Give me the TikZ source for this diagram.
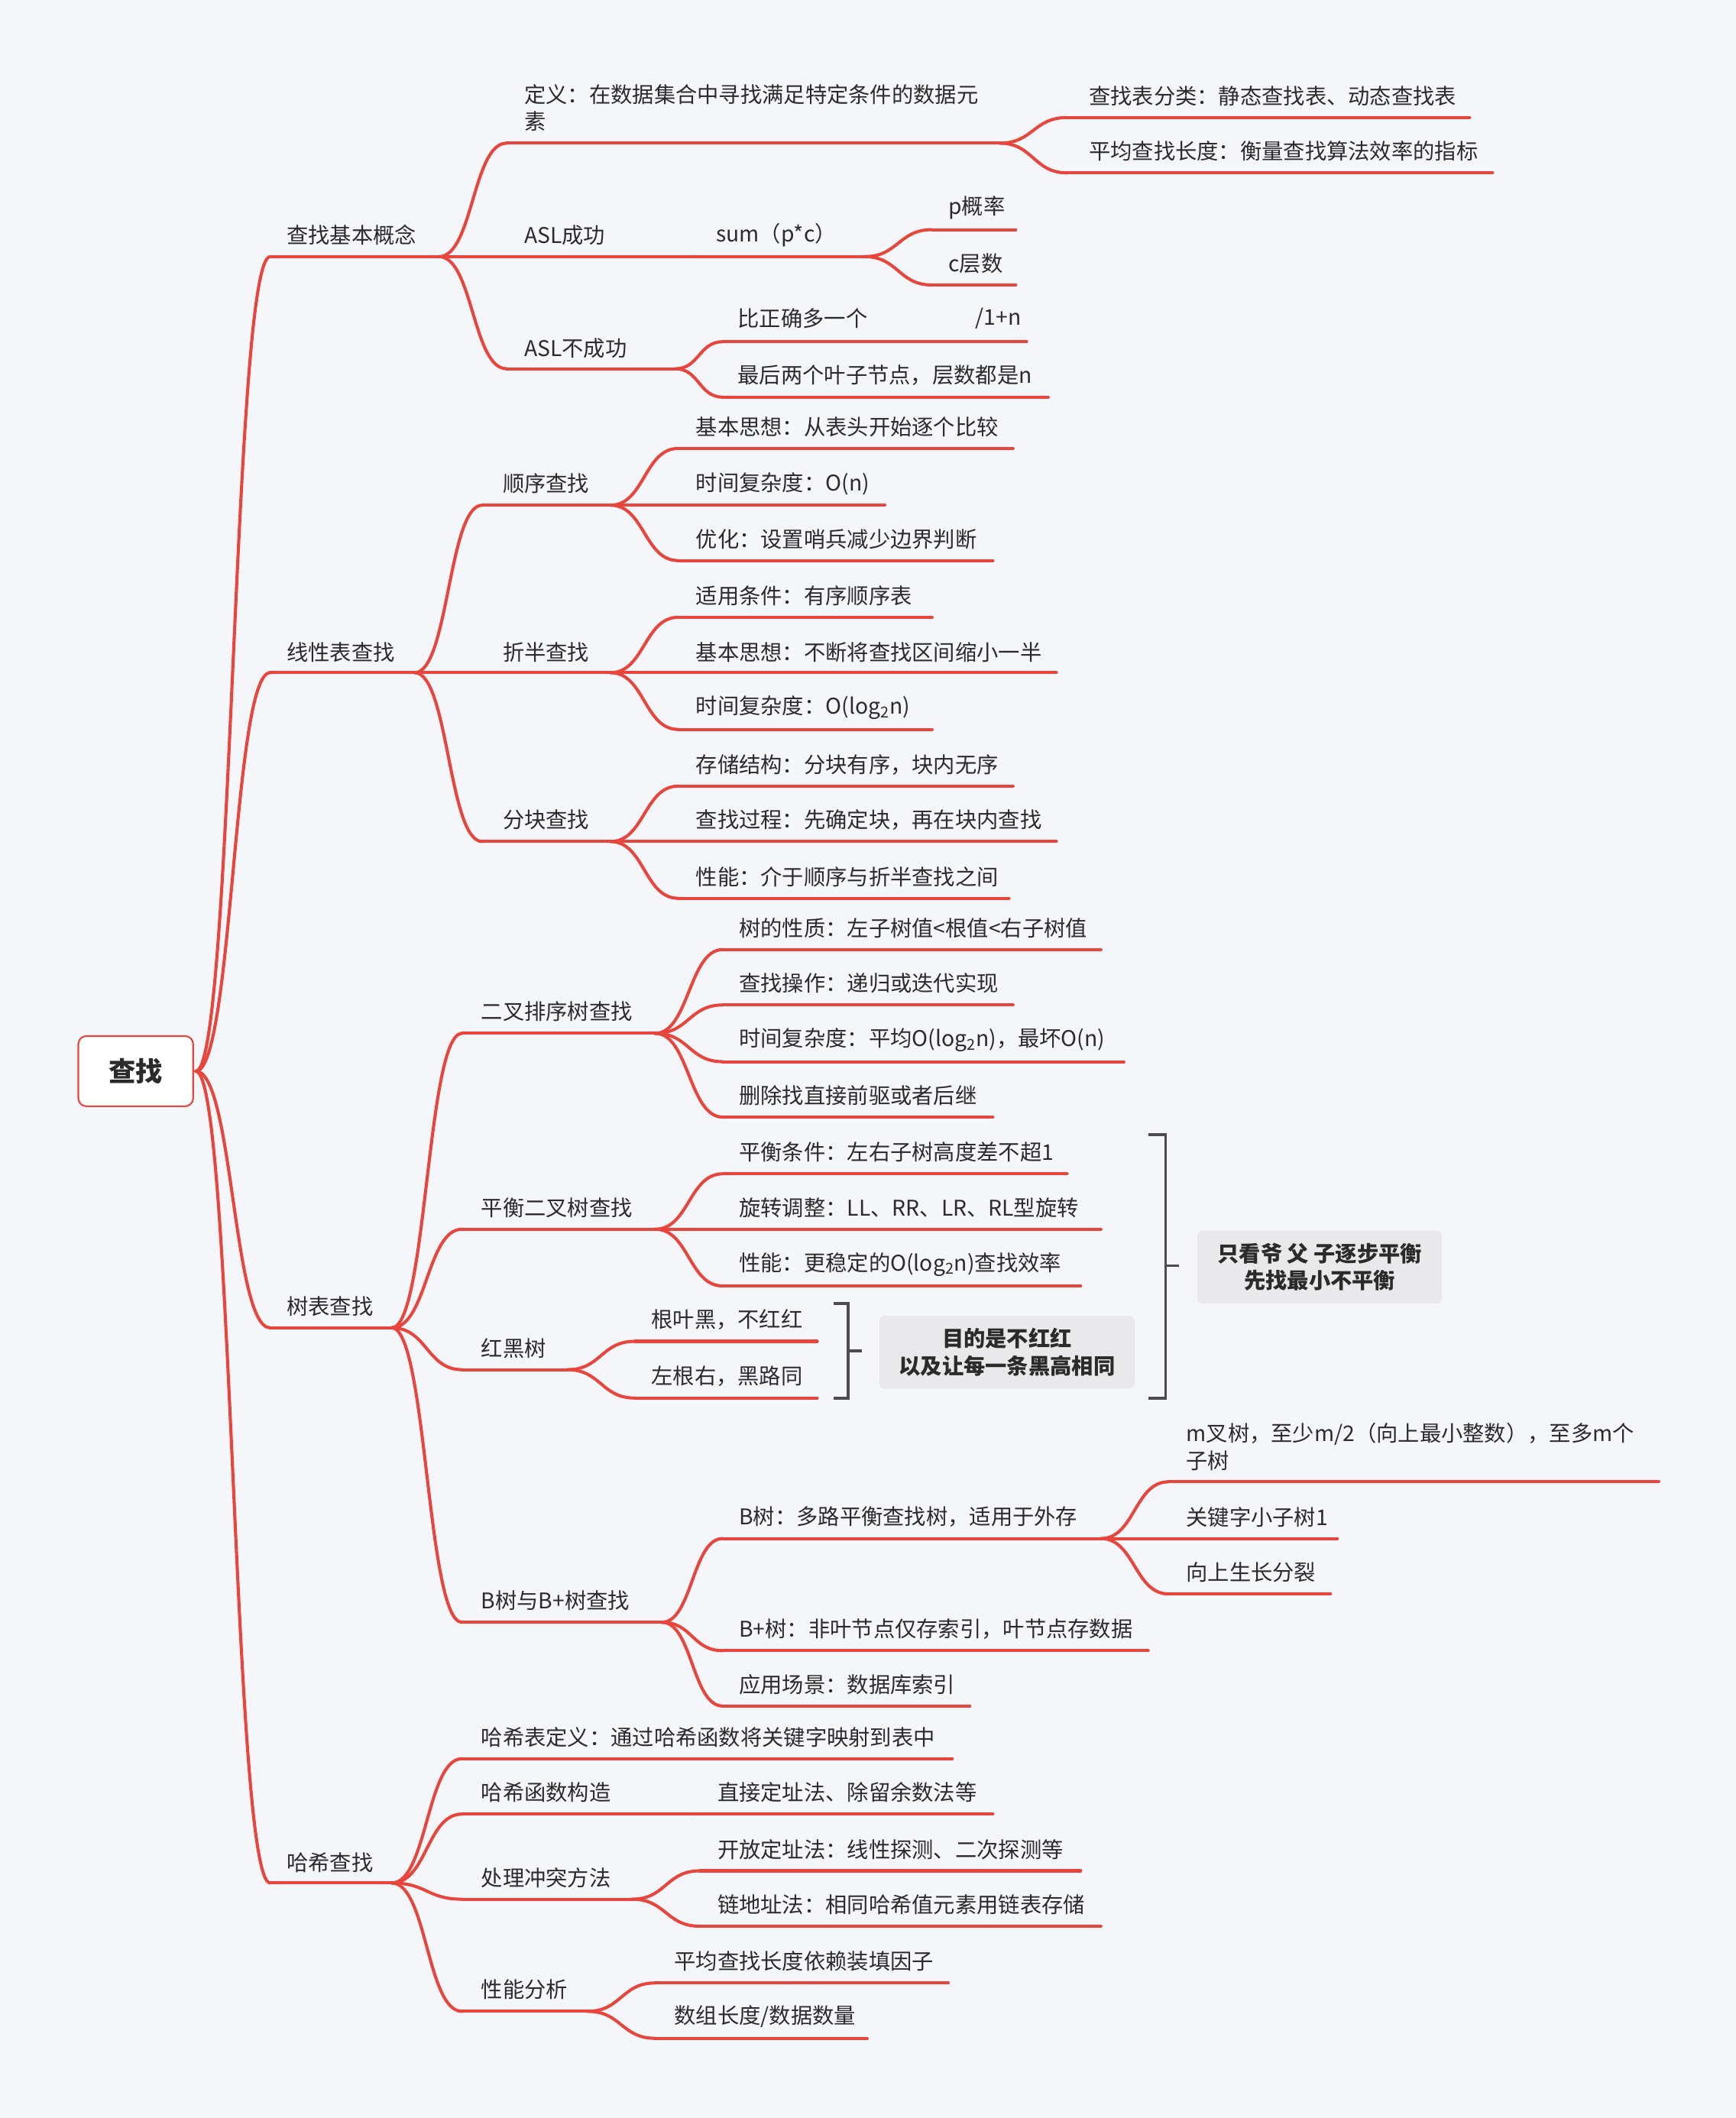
\documentclass[tikz,border=0pt]{standalone}
\usepackage{fontspec}
\setmainfont{Noto Sans CJK SC}
\usetikzlibrary{calc}
\definecolor{lnred}{HTML}{E8453C}
\definecolor{bg}{HTML}{F5F6FA}
\definecolor{tx}{HTML}{2B2B2B}
\definecolor{boxg}{HTML}{E9E9EB}
\begin{document}
\begin{tikzpicture}[x=1pt,y=-1pt,
  ln/.style={draw=lnred,line width=2.3pt,line cap=round},
  txt/.style={anchor=west,inner sep=0pt,text=tx,font=\fontsize{16}{20}\selectfont,align=left},
  brk/.style={draw=black!70,line width=2pt},
  note/.style={fill=boxg,rounded corners=4pt,font=\bfseries\fontsize{16}{20}\selectfont,align=center,text=tx,inner sep=0pt}]
\newcommand\mm[8]{%
 \coordinate (#1L) at (#3,#5); \coordinate (#1R) at (#4,#5);
 \draw[ln] (#1L) -- (#1R);
 \draw[ln] let \p1=(#2R),\p2=(#1L) in (#2R) .. controls ({0.5*\x1+0.5*\x2},\y1) and ({0.5*\x1+0.5*\x2},\y2) .. (#1L);
 \node[txt] (#1) at (#6,#7) {#8};}
\fill[bg] (0,0) rectangle (1285,1568);
\useasboundingbox (0,0) rectangle (1285,1568);
\node[draw=lnred,line width=1.2pt,fill=white,rounded corners=6pt,minimum width=85pt,minimum height=52pt,font=\bfseries\fontsize{20}{24}\selectfont,text=tx] (root) at (100.5,793) {查找};
\coordinate (rootR) at (145,793);
% level 1
\mm{a}{root}{200}{325}{190}{212}{174}{查找基本概念}
\mm{b}{root}{200}{307}{498}{212}{483}{线性表查找}
\mm{c}{root}{200}{290}{983}{212}{967}{树表查找}
\mm{d}{root}{200}{290}{1394}{212}{1379}{哈希查找}
% basic concepts
\mm{a1}{a}{375}{740}{106}{388}{80}{定义：在数据集合中寻找满足特定条件的数据元\\素}
\mm{a11}{a1}{790}{1088}{87}{806}{71}{查找表分类：静态查找表、动态查找表}
\mm{a12}{a1}{790}{1105}{128}{806}{112}{平均查找长度：衡量查找算法效率的指标}
\mm{a2}{a}{375}{515}{190}{388}{174}{ASL成功}
\mm{a21}{a2}{515}{640}{190}{530}{174}{sum（p*c）}
\mm{a211}{a21}{690}{752}{170}{702}{154}{p概率}
\mm{a212}{a21}{690}{752}{211}{702}{195}{c层数}
\mm{a3}{a}{375}{500}{273}{388}{258}{ASL不成功}
\mm{a31}{a3}{535}{760}{253}{546}{236}{比正确多一个}
\node[txt] (a31b) at (722,236) {/1+n};
\mm{a32}{a3}{535}{776}{294}{546}{278}{最后两个叶子节点，层数都是n}
% linear
\mm{b1}{b}{357}{452}{374}{372}{358}{顺序查找}
\mm{b11}{b1}{502}{750}{332}{515}{316}{基本思想：从表头开始逐个比较}
\mm{b12}{b1}{502}{655}{374}{515}{358}{时间复杂度：O(n)}
\mm{b13}{b1}{502}{735}{415}{515}{399}{优化：设置哨兵减少边界判断}
\mm{b2}{b}{357}{452}{498}{372}{483}{折半查找}
\mm{b21}{b2}{502}{690}{457}{515}{441}{适用条件：有序顺序表}
\mm{b22}{b2}{502}{782}{498}{515}{483}{基本思想：不断将查找区间缩小一半}
\mm{b23}{b2}{502}{690}{540}{515}{524}{时间复杂度：O(log\textsubscript{2}n)}
\mm{b3}{b}{357}{452}{623}{372}{607}{分块查找}
\mm{b31}{b3}{502}{750}{582}{515}{566}{存储结构：分块有序，块内无序}
\mm{b32}{b3}{502}{782}{623}{515}{607}{查找过程：先确定块，再在块内查找}
\mm{b33}{b3}{502}{747}{665}{515}{649}{性能：介于顺序与折半查找之间}
% tree
\mm{c1}{c}{342}{485}{765}{356}{749}{二叉排序树查找}
\mm{c11}{c1}{535}{815}{703}{547}{687}{树的性质：左子树值<根值<右子树值}
\mm{c12}{c1}{535}{750}{744}{547}{728}{查找操作：递归或迭代实现}
\mm{c13}{c1}{535}{832}{786}{547}{770}{时间复杂度：平均O(log\textsubscript{2}n)，最坏O(n)}
\mm{c14}{c1}{535}{735}{827}{547}{811}{删除找直接前驱或者后继}
\mm{c2}{c}{342}{485}{910}{356}{894}{平衡二叉树查找}
\mm{c21}{c2}{535}{790}{869}{547}{853}{平衡条件：左右子树高度差不超1}
\mm{c22}{c2}{535}{815}{910}{547}{894}{旋转调整：LL、RR、LR、RL型旋转}
\mm{c23}{c2}{535}{800}{952}{547}{936}{性能：更稳定的O(log\textsubscript{2}n)查找效率}
\mm{c3}{c}{342}{420}{1014}{356}{998}{红黑树}
\mm{c31}{c3}{470}{605}{993}{482}{977}{根叶黑，不红红}
\mm{c32}{c3}{470}{605}{1035}{482}{1019}{左根右，黑路同}
\mm{c4}{c}{342}{490}{1201}{356}{1185}{B树与B+树查找}
\mm{c41}{c4}{535}{815}{1139}{547}{1123}{B树：多路平衡查找树，适用于外存}
\mm{c411}{c41}{865}{1228}{1097}{878}{1071}{m叉树，至少m/2（向上最小整数），至多m个\\子树}
\mm{c412}{c41}{865}{990}{1139}{878}{1123}{关键字小子树1}
\mm{c413}{c41}{865}{985}{1180}{878}{1164}{向上生长分裂}
\mm{c42}{c4}{535}{850}{1222}{547}{1206}{B+树：非叶节点仅存索引，叶节点存数据}
\mm{c43}{c4}{535}{718}{1263}{547}{1247}{应用场景：数据库索引}
% brackets and notes
\draw[brk] (850,840) -- (863,840) -- (863,1035) -- (850,1035);
\coordinate (k1) at (863,937); \coordinate (k1e) at (873,937);
\draw[brk] (k1) -- (k1e);
\node[note,minimum width=181pt,minimum height=54pt] (n1) at (977,938) {只看爷 父 子逐步平衡\\先找最小不平衡};
\draw[brk] (617,965) -- (628,965) -- (628,1035) -- (617,1035);
\coordinate (k2) at (628,1000); \coordinate (k2e) at (638,1000);
\draw[brk] (k2) -- (k2e);
\node[note,minimum width=189pt,minimum height=54pt] (n2) at (745.5,1001) {目的是不红红\\以及让每一条黑高相同};
% hash
\mm{d1}{d}{342}{705}{1302}{356}{1286}{哈希表定义：通过哈希函数将关键字映射到表中}
\mm{d2}{d}{342}{515}{1343}{356}{1327}{哈希函数构造}
\mm{d21}{d2}{515}{735}{1343}{531}{1327}{直接定址法、除留余数法等}
\mm{d3}{d}{342}{468}{1406}{356}{1390}{处理冲突方法}
\mm{d31}{d3}{518}{800}{1385}{531}{1369}{开放定址法：线性探测、二次探测等}
\mm{d32}{d3}{518}{815}{1426}{531}{1410}{链地址法：相同哈希值元素用链表存储}
\mm{d4}{d}{342}{435}{1489}{356}{1473}{性能分析}
\mm{d41}{d4}{485}{702}{1468}{499}{1452}{平均查找长度依赖装填因子}
\mm{d42}{d4}{485}{642}{1509}{499}{1493}{数组长度/数据数量}
\end{tikzpicture}
\end{document}
